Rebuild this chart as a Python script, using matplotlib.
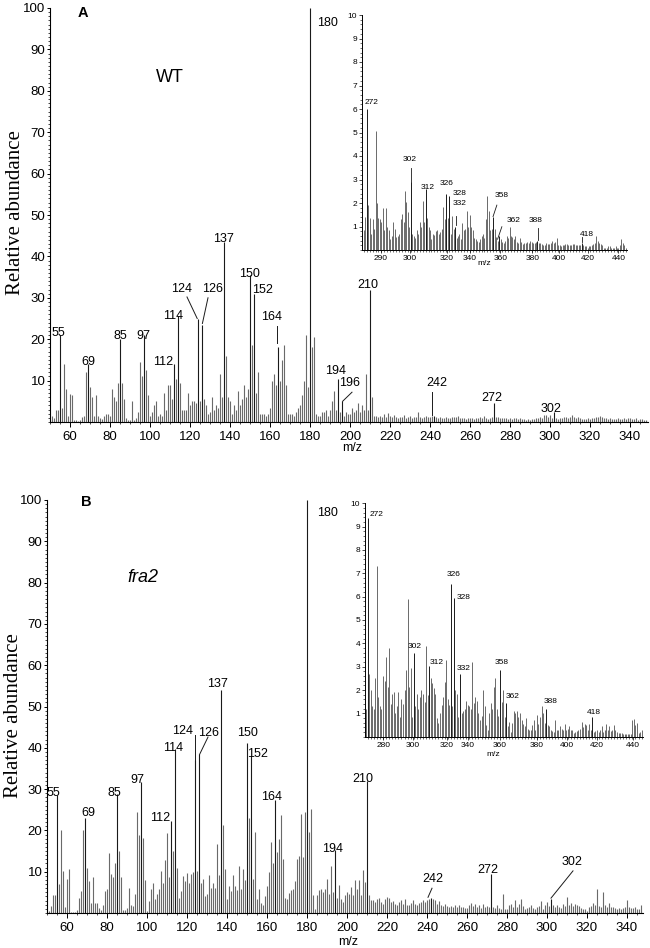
import matplotlib
matplotlib.use('Agg')
import matplotlib.pyplot as plt
import numpy as np
from matplotlib.ticker import MultipleLocator, FixedLocator

plt.rcParams['font.family'] = ['Liberation Sans', 'DejaVu Sans']

# ---------------- data ----------------
mz_main = np.arange(50, 350)

wt_main = [
    0.5, 1.5, 1.0, 3.0, 3.0, 21.0, 3.5, 14.0, 8.0, 1.5,
    6.8, 6.5, 0.6, 0.5, 0.3, 0.5, 1.2, 1.5, 12.0, 14.0,
    8.5, 6.0, 1.5, 6.5, 1.5, 1.0, 0.7, 1.5, 2.0, 2.0,
    1.5, 8.0, 6.0, 5.0, 9.5, 20.0, 9.5, 5.5, 1.0, 0.5,
    0.5, 5.0, 0.5, 1.0, 2.5, 14.5, 11.0, 21.0, 12.5, 6.5,
    1.5, 2.5, 4.0, 5.0, 1.5, 2.0, 1.5, 7.0, 3.0, 9.0,
    9.0, 5.5, 14.0, 10.5, 25.5, 9.5, 3.0, 3.0, 3.0, 7.0,
    4.0, 5.0, 5.0, 4.5, 25.0, 5.0, 23.5, 5.5, 4.0, 2.0,
    2.5, 6.0, 3.0, 4.0, 3.5, 11.5, 6.0, 43.5, 16.0, 6.0,
    5.0, 2.0, 4.0, 3.0, 7.5, 4.0, 5.5, 9.0, 6.0, 8.0,
    35.5, 18.5, 31.0, 7.0, 12.0, 2.0, 2.0, 2.0, 1.5, 2.0,
    3.5, 10.0, 11.5, 9.0, 18.0, 10.0, 15.0, 18.5, 9.0, 2.0,
    2.0, 2.0, 1.5, 2.5, 3.5, 4.0, 6.5, 10.0, 21.0, 8.5,
    100.0, 18.0, 20.5, 2.0, 1.5, 1.5, 2.5, 2.5, 3.0, 1.5,
    3.0, 5.0, 7.5, 3.0, 10.5, 2.5, 5.0, 1.5, 2.5, 2.0,
    2.0, 3.5, 2.5, 3.0, 4.5, 2.5, 4.0, 3.0, 11.5, 3.0,
    32.0, 6.0, 1.5, 1.5, 1.2, 1.4, 1.3, 2.0, 1.2, 2.2,
    1.5, 1.1, 1.8, 1.2, 1.0, 1.3, 1.1, 1.6, 1.0, 1.2,
    1.4, 1.0, 1.1, 1.3, 2.3, 1.1, 1.0, 1.2, 1.5, 1.1,
    1.3, 1.5, 1.5, 1.2, 1.0, 1.1, 0.9, 1.0, 1.1, 0.9,
    1.0, 1.2, 1.3, 1.1, 1.4, 1.0, 0.9, 1.0, 0.8, 1.0,
    0.9, 1.0, 0.8, 0.9, 1.0, 1.2, 0.9, 1.4, 1.0, 0.8,
    1.0, 1.1, 4.6, 1.3, 1.1, 0.9, 1.0, 0.9, 1.0, 0.8,
    0.9, 0.8, 1.0, 0.9, 0.8, 0.9, 0.7, 0.8, 0.6, 0.7,
    0.6, 0.7, 0.8, 0.9, 1.0, 1.3, 1.0, 1.6, 1.8, 1.2,
    1.6, 1.0, 2.4, 0.9, 0.8, 1.0, 0.9, 1.2, 1.3, 1.0,
    1.2, 1.8, 1.3, 1.0, 1.2, 0.9, 0.8, 0.7, 0.8, 0.9,
    0.7, 0.9, 1.0, 1.1, 1.2, 1.4, 1.2, 1.0, 0.9, 0.8,
    0.9, 0.8, 0.7, 0.8, 0.9, 0.7, 0.8, 0.9, 0.8, 1.0,
    0.9, 0.8, 0.7, 0.9, 0.6, 0.8, 0.7, 0.6, 0.5, 0.5,
]

fra2_main = [
    0.3, 0.5, 1.8, 4.3, 4.3, 28.5, 7.0, 20.0, 10.2, 1.5,
    8.2, 10.6, 0.3, 0.2, 0.3, 0.8, 3.7, 5.3, 20.0, 22.9,
    10.9, 7.8, 2.4, 8.6, 2.4, 2.4, 1.2, 0.8, 2.0, 5.3,
    5.7, 14.5, 9.4, 8.6, 12.2, 28.7, 15.0, 8.6, 0.8, 0.8,
    1.2, 6.0, 2.0, 1.6, 4.5, 24.5, 19.0, 31.8, 18.2, 8.0,
    0.6, 2.9, 5.7, 7.2, 3.4, 4.5, 5.7, 10.2, 7.3, 12.9,
    19.4, 8.6, 22.2, 14.9, 39.6, 11.0, 3.7, 5.3, 9.0, 7.8,
    9.6, 7.3, 9.4, 10.0, 37.1, 10.2, 38.4, 7.3, 8.2, 4.0,
    4.7, 9.1, 6.1, 7.2, 6.0, 16.7, 9.1, 54.0, 21.2, 10.6,
    3.4, 6.5, 5.3, 9.1, 6.5, 5.5, 11.4, 5.9, 10.6, 8.0,
    41.2, 22.9, 38.0, 8.2, 19.6, 3.3, 5.7, 2.4, 2.0, 4.0,
    6.5, 10.0, 17.1, 12.2, 27.3, 14.7, 17.8, 23.8, 13.0, 3.7,
    3.5, 4.9, 5.5, 5.9, 7.8, 13.0, 13.9, 24.0, 13.5, 24.5,
    100.0, 19.6, 25.3, 4.3, 1.0, 4.3, 5.5, 5.7, 5.2, 5.9,
    8.3, 4.5, 11.3, 5.0, 15.2, 3.6, 6.9, 3.5, 2.7, 4.4,
    5.1, 4.6, 6.3, 4.3, 7.9, 5.9, 7.9, 4.3, 10.3, 7.5,
    32.0, 4.3, 3.1, 3.1, 2.7, 3.5, 3.6, 2.7, 2.2, 3.5,
    3.9, 3.6, 2.7, 2.8, 2.3, 1.9, 2.7, 3.1, 2.3, 3.5,
    1.9, 2.0, 2.5, 3.1, 2.2, 1.9, 2.5, 2.7, 3.1, 2.7,
    3.1, 3.5, 3.6, 3.4, 3.1, 2.3, 2.8, 1.9, 1.7, 2.3,
    1.6, 1.5, 1.7, 1.5, 2.0, 1.5, 1.9, 1.5, 1.5, 1.2,
    1.2, 2.0, 2.5, 1.7, 2.3, 1.5, 1.9, 1.2, 2.3, 1.5,
    1.8, 1.5, 9.5, 1.5, 1.2, 1.9, 1.2, 0.9, 4.7, 1.0,
    1.0, 1.9, 2.3, 1.5, 3.1, 1.5, 2.3, 3.5, 1.7, 1.0,
    1.2, 1.5, 2.0, 1.3, 0.9, 1.5, 1.7, 2.8, 1.0, 1.9,
    2.7, 1.8, 3.5, 2.0, 1.5, 1.9, 1.5, 1.2, 2.3, 1.7,
    3.9, 2.0, 2.5, 1.8, 2.3, 2.0, 1.7, 1.2, 1.0, 0.9,
    0.6, 1.5, 1.7, 2.5, 2.0, 5.7, 1.7, 1.5, 5.1, 1.9,
    1.5, 2.5, 1.5, 1.4, 1.2, 1.0, 1.2, 1.0, 1.2, 1.5,
    3.1, 1.5, 1.2, 1.3, 1.5, 0.9, 1.0, 1.9, 0.6, 0.4,
]

mz_inset_wt = np.arange(268, 450)
wt_inset = [
    0.5, 0.7, 0.85, 1.4, 6.0, 1.9, 1.35, 0.7, 1.3, 0.9,
    5.06, 2.0, 1.35, 1.3, 1.2, 1.8, 0.85, 1.77, 1.0, 0.85,
    0.45, 0.6, 1.2, 0.9, 0.55, 0.6, 0.7, 1.3, 1.55, 1.2,
    2.5, 2.05, 1.6, 1.0, 2.9, 0.7, 0.6, 0.5, 0.85, 0.7,
    1.2, 1.0, 2.1, 1.2, 2.6, 1.35, 1.0, 0.85, 0.45, 0.7,
    0.65, 0.8, 0.85, 0.7, 0.75, 0.9, 1.85, 1.3, 2.4, 1.35,
    2.3, 0.7, 1.45, 0.9, 1.0, 0.5, 0.6, 0.7, 0.45, 1.15,
    0.85, 0.9, 1.65, 1.0, 1.5, 1.0, 0.85, 0.5, 0.45, 0.4,
    0.35, 0.45, 0.6, 0.7, 0.5, 1.3, 2.3, 1.65, 0.85, 0.9,
    1.4, 0.9, 0.55, 0.4, 0.6, 0.45, 0.35, 0.3, 0.4, 0.6,
    0.5, 1.0, 0.6, 0.55, 0.45, 0.6, 0.35, 0.3, 0.5, 0.35,
    0.25, 0.3, 0.3, 0.35, 0.3, 0.4, 0.35, 0.3, 0.3, 0.35,
    0.4, 0.3, 0.3, 0.25, 0.2, 0.2, 0.3, 0.25, 0.25, 0.3,
    0.4, 0.3, 0.35, 0.5, 0.2, 0.2, 0.15, 0.2, 0.2, 0.25,
    0.25, 0.2, 0.2, 0.2, 0.25, 0.25, 0.2, 0.2, 0.2, 0.2,
    0.3, 0.2, 0.15, 0.15, 0.1, 0.15, 0.15, 0.2, 0.25, 0.3,
    0.6, 0.4, 0.3, 0.25, 0.2, 0.1, 0.1, 0.1, 0.15, 0.15,
    0.1, 0.1, 0.1, 0.15, 0.1, 0.1, 0.2, 0.45, 0.3, 0.2,
    0.1, 0.05,
]

mz_inset_fra2 = np.arange(270, 452)
fra2_inset = [
    1.2, 1.2, 9.35, 2.7, 2.0, 1.3, 1.2, 2.5, 7.3, 1.7,
    1.3, 1.2, 2.6, 2.4, 3.4, 2.15, 3.8, 1.4, 1.85, 1.9,
    1.0, 1.3, 1.9, 0.85, 1.6, 1.4, 2.0, 2.85, 5.9, 2.15,
    2.95, 0.85, 3.6, 1.3, 1.85, 1.2, 1.7, 2.0, 1.85, 1.5,
    3.9, 1.8, 3.05, 2.5, 2.3, 2.1, 1.85, 0.8, 0.6, 1.0,
    1.35, 1.7, 2.35, 3.3, 1.6, 1.35, 6.55, 1.3, 5.95, 2.0,
    1.85, 0.85, 2.7, 1.0, 1.1, 1.2, 1.55, 1.35, 1.3, 1.2,
    3.2, 1.45, 1.7, 1.55, 1.0, 0.7, 0.9, 2.0, 1.3, 0.5,
    0.3, 1.0, 1.45, 1.2, 2.15, 2.5, 1.2, 0.9, 2.85, 1.5,
    2.0, 0.85, 1.45, 0.45, 0.65, 0.2, 0.6, 1.1, 1.0, 1.1,
    0.85, 1.0, 0.7, 0.55, 0.45, 0.8, 0.35, 0.3, 0.3, 0.5,
    0.7, 0.3, 0.95, 0.55, 0.85, 1.3, 1.0, 0.6, 1.2, 0.5,
    0.45, 0.3, 0.25, 0.2, 0.7, 0.3, 0.3, 0.45, 0.35, 0.3,
    0.55, 0.3, 0.35, 0.45, 0.3, 0.3, 0.15, 0.2, 0.25, 0.3,
    0.35, 0.65, 0.4, 0.55, 0.5, 0.3, 0.55, 0.3, 0.85, 0.2,
    0.25, 0.3, 0.2, 0.3, 0.45, 0.2, 0.3, 0.55, 0.3, 0.45,
    0.25, 0.3, 0.5, 0.3, 0.2, 0.15, 0.15, 0.15, 0.1, 0.1,
    0.1, 0.1, 0.1, 0.1, 0.7, 0.75, 0.5, 0.6, 0.15, 0.2,
    0.3, 0.1,
]

# peak annotations (label text values)
main_peaks_wt = [55, 69, 85, 97, 112, 114, 124, 126, 137, 150, 152, 164, 180, 194, 196, 210, 242, 272, 302]
main_peaks_fra2 = [55, 69, 85, 97, 112, 114, 124, 126, 137, 150, 152, 164, 180, 194, 210, 242, 272, 302]
inset_peaks = [272, 302, 312, 326, 328, 332, 358, 362, 388, 418]

# ---------------- layout ----------------
W, H = 650, 948
fig = plt.figure(figsize=(6.5, 9.48), dpi=100)


def frac(l, t, r, b):
    return [l / W, 1 - b / H, (r - l) / W, (b - t) / H]


# label positions (data coords)
pos_A = {55: (54, 21.5), 69: (69, 14.5), 85: (85, 20.8), 97: (96.5, 20.8), 112: (106.5, 14.5),
         114: (111.5, 25.6), 124: (116, 32.1), 126: (131.5, 32.1), 137: (136.5, 44.2),
         150: (149.5, 35.7), 152: (156, 31.9), 164: (161, 25.4), 180: (188.5, 96.4),
         194: (193, 12.4), 196: (200, 9.4), 210: (209, 33.1), 242: (243.5, 9.4),
         272: (271, 5.8), 302: (300.5, 3.2)}
lead_A = [((118.5, 30.2), (123.6, 25.0)), ((129.0, 30.0), (126.2, 23.8)),
          ((163.7, 23.2), (163.7, 19.0)), ((201.0, 7.2), (196.3, 5.0)),
          ((241.0, 7.2), (241.0, 1.8))]
pos_B = {55: (53, 29), 69: (70.5, 24.2), 85: (83.5, 29), 97: (95, 32.2), 112: (106.5, 23),
         114: (113, 40), 124: (118, 44), 126: (131, 43.6), 137: (135.5, 55.5),
         150: (150, 43.6), 152: (155.5, 38.5), 164: (162.5, 28), 180: (190.5, 96.8),
         194: (193, 15.6), 210: (208, 32.4), 242: (243, 8.2), 272: (270.5, 10.4),
         302: (312.5, 12.3)}
lead_B = [((124.0, 43.0), (124.0, 37.1)), ((130.5, 42.6), (126.3, 38.4)),
          ((242.5, 6.0), (240.5, 3.8)), ((313.0, 10.2), (302.0, 3.6))]
pos_iA = {272: (275.4, 6.27), 302: (301.5, 3.83), 312: (313.5, 2.67), 326: (326.4, 2.84),
          328: (334.8, 2.41), 332: (334.8, 1.96), 358: (363.4, 2.31), 362: (371.7, 1.25),
          388: (386.5, 1.25), 418: (421.2, 0.67)}
lead_iA = [((302, 3.5), (302, 2.9)), ((332.5, 1.45), (332.5, 1.05)),
           ((360.4, 1.91), (357.8, 1.42)), ((363.8, 0.99), (360.9, 0.46)),
           ((388.1, 0.95), (388.1, 0.42)), ((418.3, 0.54), (418.3, 0.32))]
pos_iB = {272: (277.8, 9.5), 302: (302.7, 3.86), 312: (316.8, 3.17), 326: (327.6, 6.93),
          328: (334.6, 5.97), 332: (334.6, 2.93), 358: (359.1, 3.17), 362: (366.2, 1.74),
          388: (390.9, 1.5), 418: (419.0, 1.04)}

itick_A_pos = [281.7, 301.5, 326.4, 341.9, 362.7, 384.6, 402.3, 422.0, 443.0]
itick_A_lab = ['290', '300', '320', '340', '360', '380', '400', '420', '440']
itick_B_pos = [282.1, 301.6, 323.3, 337.2, 358.0, 381.8, 401.3, 420.8, 444.6]
itick_B_lab = ['280', '300', '320', '340', '360', '380', '400', '420', '440']

STICK = '#6a6a6a'
DARK = '#1a1a1a'


def draw_sticks(ax, mz, vals, labelled, lw):
    vals = np.asarray(vals)
    mask = np.isin(mz, labelled)
    ax.vlines(mz[~mask], 0, vals[~mask], color=STICK, lw=lw)
    ax.vlines(mz[mask], 0, vals[mask], color=DARK, lw=lw)


def style_main(ax, xlim):
    ax.set_xlim(*xlim)
    ax.set_ylim(0, 100)
    for s in ['top', 'right']:
        ax.spines[s].set_visible(False)
    for s in ['left', 'bottom']:
        ax.spines[s].set_linewidth(0.8)
    ax.xaxis.set_major_locator(MultipleLocator(20))
    ax.xaxis.set_minor_locator(MultipleLocator(5))
    ax.yaxis.set_major_locator(FixedLocator(list(range(10, 101, 10))))
    ax.yaxis.set_minor_locator(MultipleLocator(1))
    ax.tick_params(axis='both', which='major', direction='out', length=2.5, width=0.7,
                   labelsize=9.5, pad=0.8)
    ax.tick_params(axis='x', which='major', length=3.5, pad=3)
    ax.tick_params(axis='both', which='minor', direction='out', length=1.6, width=0.5)
    ax.set_facecolor('none')


def style_inset(ax, xlim, tpos, tlab):
    ax.set_xlim(*xlim)
    ax.set_ylim(0, 10)
    for s in ['top', 'right']:
        ax.spines[s].set_visible(False)
    for s in ['left', 'bottom']:
        ax.spines[s].set_linewidth(0.7)
    ax.xaxis.set_major_locator(FixedLocator(tpos))
    ax.set_xticklabels(tlab)
    ax.xaxis.set_minor_locator(MultipleLocator(2))
    ax.yaxis.set_major_locator(FixedLocator(list(range(1, 11))))
    ax.yaxis.set_minor_locator(MultipleLocator(0.2))
    ax.tick_params(axis='both', which='major', direction='out', length=2.5, width=0.5,
                   labelsize=6, pad=1)
    ax.tick_params(axis='both', which='minor', direction='out', length=1.3, width=0.4)
    ax.set_facecolor('none')


# ---------- panel A ----------
axA = fig.add_axes(frac(50, 8, 648, 422))
draw_sticks(axA, mz_main, wt_main, main_peaks_wt, 0.8)
style_main(axA, (50, 349))
for p in main_peaks_wt:
    axA.text(*pos_A[p], str(p), fontsize=9, ha='center', va='center')
for (a, b) in lead_A:
    axA.plot([a[0], b[0]], [a[1], b[1]], color=DARK, lw=0.7)
axA.text(0.505, -0.062, 'm/z', transform=axA.transAxes, fontsize=9, ha='center', va='center')

# ---------- panel B ----------
axB = fig.add_axes(frac(47, 500, 643, 913))
draw_sticks(axB, mz_main, fra2_main, main_peaks_fra2, 0.8)
style_main(axB, (50, 348))
for p in main_peaks_fra2:
    axB.text(*pos_B[p], str(p), fontsize=9, ha='center', va='center')
for (a, b) in lead_B:
    axB.plot([a[0], b[0]], [a[1], b[1]], color=DARK, lw=0.7)
axB.text(0.505, -0.07, 'm/z', transform=axB.transAxes, fontsize=9, ha='center', va='center')

# ---------- inset A ----------
iA = fig.add_axes(frac(362, 15, 627, 250))
draw_sticks(iA, mz_inset_wt, wt_inset, inset_peaks, 0.7)
style_inset(iA, (268.8, 448.8), itick_A_pos, itick_A_lab)
for p in inset_peaks:
    iA.text(*pos_iA[p], str(p), fontsize=6, ha='center', va='center')
for (a, b) in lead_iA:
    iA.plot([a[0], b[0]], [a[1], b[1]], color=DARK, lw=0.6)
iA.text(0.463, -0.058, 'm/z', transform=iA.transAxes, fontsize=6, ha='center', va='center')

# ---------- inset B ----------
iB = fig.add_axes(frac(365, 503.3, 643.3, 736.7))
draw_sticks(iB, mz_inset_fra2, fra2_inset, inset_peaks, 0.7)
style_inset(iB, (270.3, 451.1), itick_B_pos, itick_B_lab)
for p in inset_peaks:
    iB.text(*pos_iB[p], str(p), fontsize=6, ha='center', va='center')
iB.text(0.46, -0.075, 'm/z', transform=iB.transAxes, fontsize=6, ha='center', va='center')

# ---------- figure texts ----------
fig.text(16 / W, 1 - 213 / H, 'Relative abundance', rotation=90, ha='center', va='center',
         fontsize=15, family=['Liberation Serif', 'DejaVu Serif'])
fig.text(14 / W, 1 - 716 / H, 'Relative abundance', rotation=90, ha='center', va='center',
         fontsize=15, family=['Liberation Serif', 'DejaVu Serif'])
fig.text(83 / W, 1 - 13 / H, 'A', fontsize=10.5, fontweight='bold', ha='center', va='center')
fig.text(86 / W, 1 - 502 / H, 'B', fontsize=10.5, fontweight='bold', ha='center', va='center')
fig.text(170 / W, 1 - 78 / H, 'WT', fontsize=13, ha='center', va='center')
fig.text(143 / W, 1 - 578 / H, 'fra2', fontsize=13, style='italic', ha='center', va='center')

fig.savefig('out.png', dpi=100)
